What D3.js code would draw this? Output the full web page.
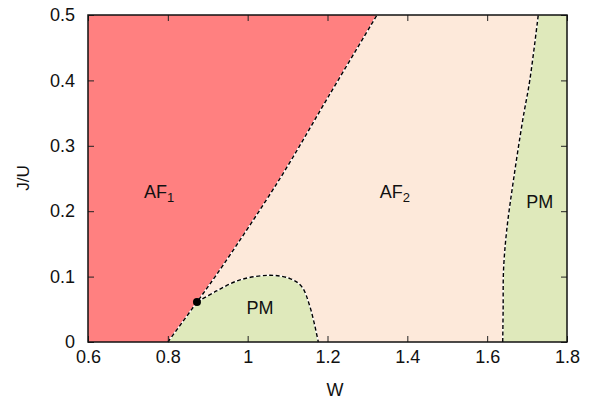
<!DOCTYPE html>
<html lang="en">
<head>
<meta charset="UTF-8">
<title>Phase diagram</title>
<script src="https://d3js.org/d3.v7.min.js"></script>
<style>
  body { margin: 0; background: #fff; }
  text { font-family: "Liberation Sans", Arial, sans-serif; fill: #111; }
  .tick text { font-size: 18px; }
  .tick line { stroke: #222; }
</style>
</head>
<body>
<script>
// boundaries, [W, J/U]
const af1Line = [[0.80, 0], [0.873, 0.061], [0.939, 0.118], [1.081, 0.250], [1.202, 0.375], [1.324, 0.5]];
const pmDome = [[0.873, 0.061], [0.922, 0.078], [0.981, 0.095], [1.056, 0.102], [1.106, 0.097], [1.135, 0.085], [1.156, 0.054], [1.177, 0]];
const pmRight = [[1.639, 0], [1.640, 0.05], [1.641, 0.11], [1.649, 0.171], [1.666, 0.248], [1.689, 0.339], [1.707, 0.401], [1.728, 0.5]];
const critPoint = [0.873, 0.061];
const xTicks = [0.6, 0.8, 1, 1.2, 1.4, 1.6, 1.8];
const yTicks = [0, 0.1, 0.2, 0.3, 0.4, 0.5];
const labels = [
  { name: "AF", sub: "1", w: 0.778, j: 0.22 },
  { name: "AF", sub: "2", w: 1.369, j: 0.22 },
  { name: "PM", sub: "", w: 1.031, j: 0.043 },
  { name: "PM", sub: "", w: 1.732, j: 0.205 }
];

const width = 592, height = 401;
const svg = d3.select("body").append("svg").attr("width", width).attr("height", height);

const x = d3.scaleLinear().domain([0.6, 1.8]).range([88, 567]);
const y = d3.scaleLinear().domain([0, 0.5]).range([342, 15]);

const line = d3.line().x(d => x(d[0])).y(d => y(d[1])).curve(d3.curveCatmullRom);

// background AF2
svg.append("rect").attr("x", x(0.6)).attr("y", y(0.5))
  .attr("width", x(1.8) - x(0.6)).attr("height", y(0) - y(0.5))
  .attr("fill", "#fde9da");

// AF1 region
svg.append("path")
  .attr("d", line(af1Line) + `L${x(0.6)},${y(0.5)}L${x(0.6)},${y(0)}Z`)
  .attr("fill", "#ff8080");

// PM dome: lower piece of af1 line plus dome
const lowPart = af1Line.slice(0, 2);
svg.append("path")
  .attr("d", `M${x(lowPart[0][0])},${y(lowPart[0][1])}L${x(lowPart[1][0])},${y(lowPart[1][1])}` + line(pmDome).replace("M", "L") + "Z")
  .attr("fill", "#dfe9bb");

// PM right
svg.append("path")
  .attr("d", line(pmRight) + `L${x(1.8)},${y(0.5)}L${x(1.8)},${y(0)}Z`)
  .attr("fill", "#dfe9bb");

// dashed boundaries
[af1Line, pmDome, pmRight].forEach(pts => {
  svg.append("path").attr("d", line(pts)).attr("fill", "none")
    .attr("stroke", "#fff").attr("stroke-width", 1.4);
  svg.append("path").attr("d", line(pts)).attr("fill", "none")
    .attr("stroke", "#000").attr("stroke-width", 1.4)
    .attr("stroke-dasharray", "4,2.5");
});

svg.append("circle").attr("cx", x(critPoint[0])).attr("cy", y(critPoint[1]))
  .attr("r", 4).attr("fill", "#000");

// axes with inward ticks, mirrored
const gx = svg.append("g").attr("transform", `translate(0,${y(0)})`)
  .call(d3.axisBottom(x).tickValues(xTicks).tickFormat(d3.format("~g")).tickSizeInner(-6).tickSizeOuter(0).tickPadding(8));
const gx2 = svg.append("g").attr("transform", `translate(0,${y(0.5)})`)
  .call(d3.axisTop(x).tickValues(xTicks).tickFormat("").tickSizeInner(-6).tickSizeOuter(0));
const gy = svg.append("g").attr("transform", `translate(${x(0.6)},0)`)
  .call(d3.axisLeft(y).tickValues(yTicks).tickFormat(d3.format("~g")).tickSizeInner(-6).tickSizeOuter(0).tickPadding(13));
const gy2 = svg.append("g").attr("transform", `translate(${x(1.8)},0)`)
  .call(d3.axisRight(y).tickValues(yTicks).tickFormat("").tickSizeInner(-6).tickSizeOuter(0));
[gx, gx2, gy, gy2].forEach(g => g.select(".domain").remove());

svg.append("rect").attr("x", x(0.6)).attr("y", y(0.5))
  .attr("width", x(1.8) - x(0.6)).attr("height", y(0) - y(0.5))
  .attr("fill", "none").attr("stroke", "#111").attr("stroke-width", 1.5);

// region labels
labels.forEach(l => {
  const t = svg.append("text").attr("x", x(l.w)).attr("y", y(l.j))
    .attr("text-anchor", "middle").attr("font-size", 18);
  t.append("tspan").text(l.name);
  if (l.sub) t.append("tspan").attr("font-size", 13).attr("dy", 4).text(l.sub);
});

// axis titles
svg.append("text").attr("x", 335).attr("y", 396).attr("text-anchor", "middle")
  .attr("font-size", 18).text("W");
svg.append("text").attr("transform", "translate(29,178) rotate(-90)")
  .attr("text-anchor", "middle").attr("font-size", 17).text("J/U");
</script>
</body>
</html>
